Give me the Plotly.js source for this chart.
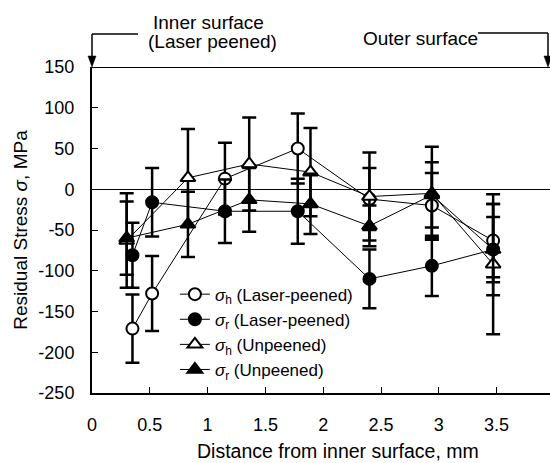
<!DOCTYPE html>
<html>
<head>
<meta charset="utf-8">
<script src="https://cdn.plot.ly/plotly-3.0.1.min.js"></script>
<style>html,body{margin:0;padding:0;background:#fff;}#chart{width:550px;height:463px;}</style>
</head>
<body>
<div id="chart"></div>
<script>
// Distance from inner surface (mm)
const xLaser = [0.35, 0.52, 1.15, 1.78, 2.40, 2.94, 3.47];
const xUnpeened = [0.30, 0.83, 1.36, 1.89, 2.40, 2.94, 3.47];
// Hoop stress, laser-peened
const sigmaHLaser = [-171, -128, 13, 50, -12, -20, -63];
const errHLaser = [42, 46, 44, 43, 38, 40, 45];
// Radial stress, laser-peened
const sigmaRLaser = [-81, -16, -27, -27, -110, -94, -74];
const errRLaser = [40, 42, 39, 40, 36, 37, 40];
// Hoop stress, unpeened
const sigmaHUnpeened = [-63, 14, 31, 21, -9, -5, -92];
const errHUnpeened = [58, 60, 57, 54, 54, 57, 86];
// Radial stress, unpeened
const sigmaRUnpeened = [-60, -43, -13, -18, -45, -7, -74];
const errRUnpeened = [45, 40, 39, 37, 25, 40, 56];

const xTicks = [0, 0.5, 1, 1.5, 2, 2.5, 3, 3.5];
const xTickText = ['0', '0.5', '1', '1.5', '2', '2.5', '3', '3.5'];
const yTicks = [-250, -200, -150, -100, -50, 0, 50, 100, 150];
const yTickText = ['-250', '-200', '-150', '-100', '-50', '0', '50', '100', '150'];

const names = [
  '<i>σ</i><sub>h</sub> (Laser-peened)',
  '<i>σ</i><sub>r</sub> (Laser-peened)',
  '<i>σ</i><sub>h</sub> (Unpeened)',
  '<i>σ</i><sub>r</sub> (Unpeened)'
];

function series(x, y, e, name, symbol, fill, group) {
  return {
    x: x, y: y, name: name, type: 'scatter', mode: 'lines+markers',
    legendgroup: group,
    line: {color: '#000', width: 1},
    marker: {symbol: symbol, size: symbol.indexOf('triangle') === 0 ? 13 : 12,
             color: fill, line: {color: '#000', width: 2}},
    error_y: {type: 'data', array: e, visible: true, color: '#000', thickness: 2.5, width: 7}
  };
}

const data = [
  series(xLaser, sigmaHLaser, errHLaser, names[0], 'circle', '#fff', 'a'),
  series(xLaser, sigmaRLaser, errRLaser, names[1], 'circle', '#000', 'b'),
  series(xUnpeened, sigmaHUnpeened, errHUnpeened, names[2], 'triangle-up', '#fff', 'c'),
  series(xUnpeened, sigmaRUnpeened, errRUnpeened, names[3], 'triangle-up', '#000', 'd')
];

const font = {family: 'Liberation Sans, Arial, sans-serif', color: '#000'};

// pixel -> paper helpers (plot area: x 92..550, y 67..393)
const px = v => (v - 92) / 458;
const py = v => (393 - v) / 326;

function arrowShapes(xp, yTop) {
  return [
    {type: 'line', xref: 'paper', yref: 'paper', x0: px(xp), x1: px(xp), y0: py(yTop), y1: py(58),
     line: {color: '#000', width: 1.5}},
    {type: 'path', xref: 'paper', yref: 'paper',
     path: 'M ' + px(xp - 4) + ' ' + py(56) + ' L ' + px(xp + 4) + ' ' + py(56) + ' L ' + px(xp) + ' ' + py(67) + ' Z',
     fillcolor: '#000', line: {color: '#000', width: 0.5}}
  ];
}

const layout = {
  width: 550, height: 463,
  margin: {l: 92, r: 0, t: 67, b: 70, pad: 0},
  paper_bgcolor: '#fff', plot_bgcolor: '#fff',
  font: Object.assign({size: 17}, font),
  showlegend: true,
  legend: {x: 0.181, y: 0.357, xanchor: 'left', yanchor: 'top', bgcolor: 'rgba(0,0,0,0)',
           font: Object.assign({size: 17}, font), tracegroupgap: 0},
  xaxis: {
    range: [0, 3.962], tickvals: xTicks, ticktext: xTickText,
    ticks: 'inside', ticklen: 6, tickwidth: 1, tickcolor: '#000',
    showline: true, linecolor: '#000', linewidth: 2,
    showgrid: false, zeroline: false, ticklabelstandoff: 14,
    tickfont: Object.assign({size: 18}, font)
  },
  yaxis: {
    range: [-250, 150], tickvals: yTicks, ticktext: yTickText,
    ticks: 'inside', ticklen: 6, tickwidth: 1, tickcolor: '#000',
    showline: true, linecolor: '#000', linewidth: 2,
    showgrid: false, zeroline: true, zerolinecolor: '#000', zerolinewidth: 1,
    ticklabelstandoff: 12,
    tickfont: Object.assign({size: 18}, font),
    title: {text: 'Residual Stress <i>σ</i>, MPa', font: Object.assign({size: 19}, font), standoff: 6}
  },
  shapes: [
    {type: 'line', xref: 'paper', yref: 'y', x0: 0, x1: 1, y0: 150, y1: 150, line: {color: '#000', width: 2}},
    {type: 'line', xref: 'paper', yref: 'paper', x0: px(92), x1: px(138), y0: py(34), y1: py(34), line: {color: '#000', width: 1.5}},
    {type: 'line', xref: 'paper', yref: 'paper', x0: px(478), x1: px(548), y0: py(33), y1: py(33), line: {color: '#000', width: 1.5}}
  ].concat(arrowShapes(92, 34), arrowShapes(548, 33)),
  annotations: [
    {xref: 'paper', yref: 'paper', x: px(208), y: py(23), text: 'Inner surface',
     showarrow: false, xanchor: 'center', yanchor: 'middle', font: Object.assign({size: 19}, font)},
    {xref: 'paper', yref: 'paper', x: px(212), y: py(41), text: '(Laser peened)',
     showarrow: false, xanchor: 'center', yanchor: 'middle', font: Object.assign({size: 19}, font)},
    {xref: 'paper', yref: 'paper', x: px(420), y: py(38), text: 'Outer surface',
     showarrow: false, xanchor: 'center', yanchor: 'middle', font: Object.assign({size: 19}, font)},
    {xref: 'paper', yref: 'paper', x: px(338), y: py(451), text: 'Distance from inner surface, mm',
     showarrow: false, xanchor: 'center', yanchor: 'middle', font: Object.assign({size: 19.5}, font)}
  ]
};

Plotly.newPlot('chart', data, layout, {displayModeBar: false, staticPlot: true});
</script>
</body>
</html>
